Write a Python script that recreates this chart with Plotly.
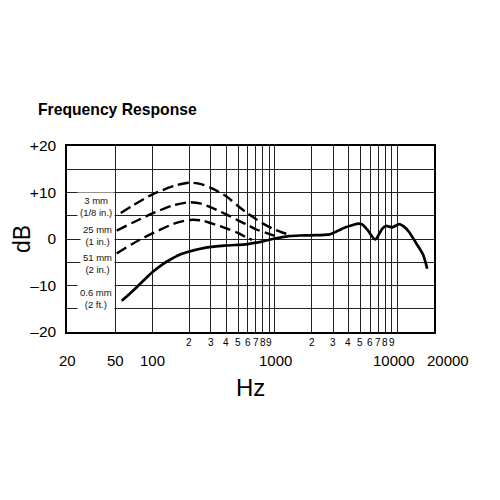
import numpy as np
import plotly.graph_objects as go

# frequency response (Hz, dB)
f_3mm = [55, 70, 100, 150, 200, 250, 300, 400, 500, 600, 700, 800, 1000, 1150, 1330]
db_3mm = [5.6, 7.3, 9.6, 11.4, 12.1, 11.8, 11.0, 9.2, 7.1, 5.5, 4.3, 3.3, 2.0, 1.4, 0.9]

f_25mm = [51, 70, 100, 150, 200, 250, 300, 400, 500, 600, 700, 850, 1000, 1100]
db_25mm = [1.8, 3.6, 5.5, 7.3, 7.9, 7.6, 6.8, 5.3, 4.0, 3.0, 2.1, 1.3, 0.7, 0.5]

f_51mm = [51, 70, 100, 150, 200, 250, 300, 400, 500, 580, 650]
db_51mm = [-3.1, -0.9, 1.2, 3.3, 4.1, 4.0, 3.4, 2.3, 1.3, 0.4, -0.2]

f_06m = [56, 70, 84, 100, 120, 140, 170, 200, 280, 400, 600, 800, 1000, 1300,
         1600, 2000, 2800, 3300, 3700, 4200, 4800, 5200, 5700, 6600, 7100, 7600,
         8100, 9100, 10400, 11300, 12500, 14300, 16300, 17600]
db_06m = [-13.3, -11.0, -9.0, -7.1, -5.5, -4.4, -3.3, -2.7, -1.8, -1.4, -1.1, -0.5,
          0.1, 0.6, 0.75, 0.8, 1.0, 1.8, 2.4, 2.9, 3.3, 3.1, 2.0, -0.1, 1.0, 2.3,
          2.8, 2.5, 3.2, 2.7, 1.5, -0.9, -3.4, -6.4]

grid_freqs = [50, 100, 200, 300, 400, 500, 600, 700, 800, 900, 1000,
              2000, 3000, 4000, 5000, 6000, 7000, 8000, 9000, 10000]
minor_freqs = [200, 300, 400, 500, 600, 700, 800, 900,
               2000, 3000, 4000, 5000, 6000, 7000, 8000, 9000]
minor_text = ['2', '3', '4', '5', '6', '7', '8', '9'] * 2
major_freqs = [20, 50, 100, 1000, 10000, 20000]
major_text = ['20', '50', '100', '1000', '10000', '20000']
major_shift = [0, 0, 0, 1, -3, 14]

y_ticks = [-20, -15, -10, -5, 0, 5, 10, 15, 20]
y_text = ['–20', '', '–10', '', '0', '', '+10', '', '+20']

labels = ['3 mm<br>(1/8 in.)', '25 mm<br>(1 in.)', '51 mm<br>(2 in.)', '0.6 mm<br>(2 ft.)']
label_y = [0.675, 0.517, 0.368, 0.178]

FONT = 'Liberation Sans, Arial, sans-serif'

fig = go.Figure()

dashed = dict(color='black', width=2.4, dash='11px,5px')
for f, d in [(f_3mm, db_3mm), (f_25mm, db_25mm), (f_51mm, db_51mm)]:
    fig.add_trace(go.Scatter(x=f, y=d, mode='lines', line=dict(shape='spline', smoothing=0.8, **dashed),
                             hoverinfo='skip'))

fig.add_trace(go.Scatter(x=f_06m, y=db_06m, mode='lines',
                         line=dict(color='black', width=2.7, shape='spline', smoothing=0.7),
                         hoverinfo='skip'))

fig.update_xaxes(type='log', range=[np.log10(20), np.log10(20000)],
                 tickvals=grid_freqs, showticklabels=False, ticks='',
                 showgrid=True, gridcolor='#222', gridwidth=1,
                 showline=True, mirror=True, linecolor='black', linewidth=1.5,
                 zeroline=False)
fig.update_yaxes(range=[-20, 20], tickvals=y_ticks, ticktext=y_text, ticks='',
                 tickfont=dict(family=FONT, size=15.5, color='black'),
                 ticklabelstandoff=6,
                 showgrid=True, gridcolor='#222', gridwidth=1,
                 showline=True, mirror=True, linecolor='black', linewidth=1.5,
                 zeroline=False)

ann = []
for f, t in zip(minor_freqs, minor_text):
    ann.append(dict(x=np.log10(f), y=-0.054, xref='x', yref='paper', text=t, showarrow=False,
                    font=dict(family=FONT, size=10, color='black'), yanchor='middle'))
for f, t, s in zip(major_freqs, major_text, major_shift):
    ann.append(dict(x=np.log10(f), y=-0.154, xref='x', yref='paper', text=t, showarrow=False,
                    xshift=s, font=dict(family=FONT, size=15, color='black'), yanchor='middle'))
for t, y in zip(labels, label_y):
    ann.append(dict(x=0.1308, y=y, xref='paper', yref='paper', text=t, showarrow=False,
                    bgcolor='white', borderpad=2, xanchor='right',
                    font=dict(family=FONT, size=9.5, color='#111'), yanchor='middle'))

ann.append(dict(x=0.499, y=-0.30, xref='paper', yref='paper', text='Hz', showarrow=False,
                font=dict(family=FONT, size=24, color='black'), yanchor='middle'))
ann.append(dict(x=-0.1226, y=0.5, xref='paper', yref='paper', text='dB', showarrow=False,
                textangle=-90, font=dict(family=FONT, size=23, color='black'),
                xanchor='center', yanchor='middle'))
ann.append(dict(x=-0.085, y=1.195, xref='paper', yref='paper', text='<b>Frequency Response</b>',
                showarrow=False, xanchor='left', yanchor='middle',
                font=dict(family=FONT, size=15.7, color='black')))

# page body adds an 8px offset, so margins are shifted to keep the plot box in place
fig.update_layout(width=500, height=500, margin=dict(l=59, r=74, t=138, b=176),
                  plot_bgcolor='white', paper_bgcolor='white', showlegend=False,
                  annotations=ann)

fig.write_html("out.html")
